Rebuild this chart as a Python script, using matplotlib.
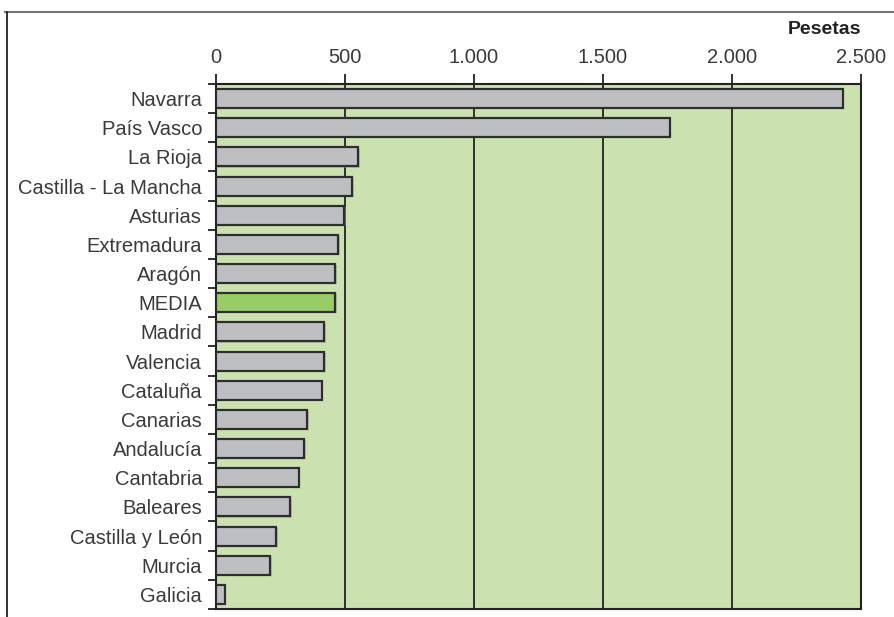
import matplotlib
matplotlib.use("Agg")
import matplotlib.pyplot as plt
from matplotlib.lines import Line2D
import numpy as np

regions = ["Navarra", "País Vasco", "La Rioja", "Castilla - La Mancha", "Asturias",
           "Extremadura", "Aragón", "MEDIA", "Madrid", "Valencia", "Cataluña",
           "Canarias", "Andalucía", "Cantabria", "Baleares", "Castilla y León",
           "Murcia", "Galicia"]
values = [2430, 1759, 552, 528, 497, 473, 463, 463, 419, 419, 409,
          353, 343, 321, 287, 233, 210, 34]
x_ticks = [0, 500, 1000, 1500, 2000, 2500]
x_tick_labels = ["0", "500", "1.000", "1.500", "2.000", "2.500"]

plt.rcParams["font.family"] = ["Liberation Sans", "DejaVu Sans"]

fig = plt.figure(figsize=(8.94, 6.17), dpi=100)
ax = fig.add_axes([216 / 894, 1 - 609 / 617, (861 - 216) / 894, (609 - 84) / 617])
ax.set_facecolor("#cbe2b0")

y = np.arange(len(regions))
colors = ["#98cc66" if r == "MEDIA" else "#bebfc3" for r in regions]

# soft drop shadow behind each bar
ax.barh(y + 0.04, values, height=0.65, left=6, color="#9a9a9a", alpha=0.5,
        edgecolor="none", zorder=2)
ax.barh(y, values, height=0.65, color=colors, edgecolor="#2e2e2e",
        linewidth=1.6, zorder=3)

ax.set_xlim(0, 2500)
ax.set_ylim(len(regions) - 0.5, -0.5)

# value axis on top with dark vertical gridlines
ax.xaxis.tick_top()
ax.set_xticks(x_ticks)
ax.set_xticklabels(x_tick_labels, fontsize=14.5, color="#3a3a3a")
ax.tick_params(axis="x", length=7, width=1.3, color="#222222", pad=5)
for xv in x_ticks[1:-1]:
    ax.axvline(xv, color="#222222", linewidth=1.3, zorder=1)

# category labels, ticks at row boundaries
ax.set_yticks(y)
ax.set_yticklabels(regions, fontsize=14.5, color="#3a3a3a")
ax.tick_params(axis="y", which="major", length=0, pad=10)
ax.set_yticks(np.arange(len(regions) + 1) - 0.5, minor=True)
ax.tick_params(axis="y", which="minor", length=6, width=1.3, color="#222222")

for side in ["left", "right", "bottom", "top"]:
    ax.spines[side].set_color("#222222")
    ax.spines[side].set_linewidth(1.5)

fig.text(861 / 894, 1 - 30 / 617, "Pesetas", ha="right", va="center",
         fontsize=14, fontweight="bold", color="#222222")

# panel frame: top and left rules
fig.add_artist(Line2D([5 / 894, 1], [1 - 12 / 617, 1 - 12 / 617],
                      color="#777777", linewidth=1.5))
fig.add_artist(Line2D([7.3 / 894, 7.3 / 894], [0, 1 - 12 / 617],
                      color="#222222", linewidth=1.3))

fig.savefig("out.png", dpi=100)
